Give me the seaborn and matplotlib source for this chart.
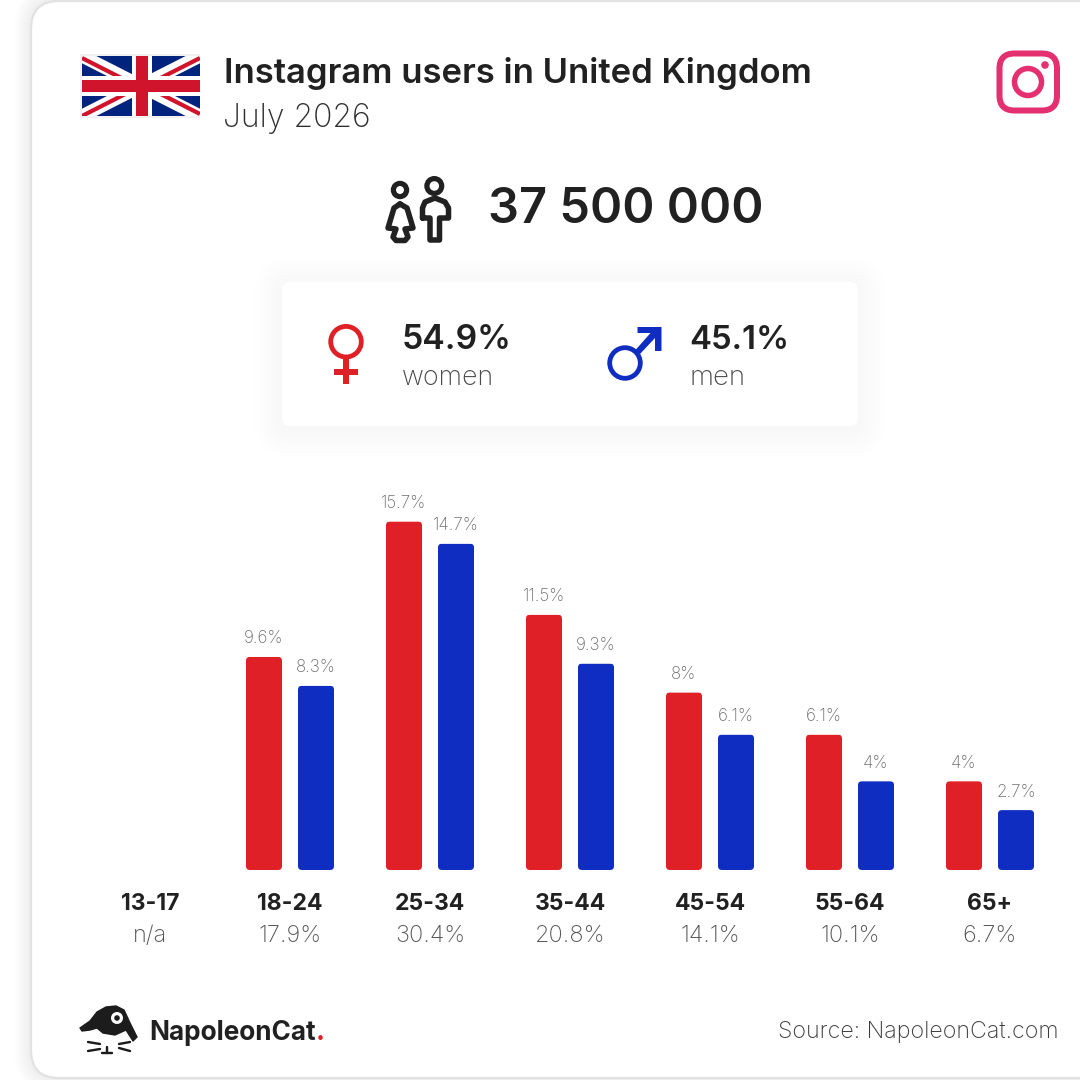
import numpy as np
import pandas as pd
import seaborn as sns
import matplotlib.pyplot as plt
from matplotlib.patches import FancyBboxPatch, Circle, Polygon, Rectangle

# values
age_groups = ['13-17', '18-24', '25-34', '35-44', '45-54', '55-64', '65+']
women_pct = [np.nan, 9.6, 15.7, 11.5, 8, 6.1, 4]
men_pct = [np.nan, 8.3, 14.7, 9.3, 6.1, 4, 2.7]
group_totals = ['n/a', '17.9%', '30.4%', '20.8%', '14.1%', '10.1%', '6.7%']
title = 'Instagram users in United Kingdom'
subtitle = 'July 2026'
total_users = '37 500 000'
women_share = '54.9%'
men_share = '45.1%'
source = 'Source: NapoleonCat.com'

RED = '#e02027'
BLUE = '#0f2dc0'
DARK = '#212121'
GREY = '#6e6e6e'
PINK = '#e4306f'
FLAG_RED = '#cf142b'
LOGO = '#1c1c1c'

sns.set_theme(style='white')
plt.rcParams['font.family'] = ['Inter', 'DejaVu Sans']

fig = plt.figure(figsize=(10.8, 10.8), dpi=100, facecolor='white')

# background axes in pixel coordinates, for the card, icons and captions
deco = fig.add_axes([0, 0, 1, 1], zorder=0)
deco.set_xlim(0, 1080)
deco.set_ylim(1080, 0)
deco.axis('off')


def px(v):
    return v * 0.72


def round_box(x0, y0, x1, y1, r, **kw):
    return FancyBboxPatch((x0 + r, y0 + r), x1 - x0 - 2 * r, y1 - y0 - 2 * r,
                          boxstyle=f'round,pad={r},rounding_size={r}', **kw)


def put(x, y, s, size, weight, color, width=None, ha='left'):
    # size in pixels, width = target width in pixels
    t = deco.text(x, y, s, fontsize=px(size), fontweight=weight, color=color,
                  ha=ha, va='baseline')
    if width:
        w = t.get_window_extent(fig.canvas.get_renderer()).width
        t.set_fontsize(px(size) * width / w)
    return t


def stroke(points, color=DARK, lw=5.5, closed=False):
    pts = list(points) + ([points[0]] if closed else [])
    xs, ys = zip(*pts)
    deco.plot(xs, ys, color=color, lw=px(lw), solid_joinstyle='round',
              solid_capstyle='round')


# page card with soft shadow
for i in range(18):
    deco.add_patch(round_box(31 - i, 1 - i, 1200, 1078 + i, 28 + i, fc='black', ec='none', alpha=0.0025))
deco.add_patch(round_box(31, 1, 1200, 1078, 28, fc='white', ec='#e2e2e2', lw=px(2.2)))

# union flag
deco.add_patch(Rectangle((80, 54), 120, 64, fc='#f2f2f2', ec='none'))
flag = Rectangle((82, 56), 118, 60, fc='#00247d', ec='none')
deco.add_patch(flag)
for xs, ys in [([82, 200], [56, 116]), ([82, 200], [116, 56])]:
    line, = deco.plot(xs, ys, color='white', lw=px(13), solid_capstyle='butt', zorder=2)
    line.set_clip_path(flag)
for xs, ys in [([82, 141], [58, 88]), ([141, 200], [84, 114]),
               ([82, 141], [116, 86]), ([141, 200], [88, 58])]:
    line, = deco.plot(xs, ys, color=FLAG_RED, lw=px(4.2), solid_capstyle='butt', zorder=2)
    line.set_clip_path(flag)
deco.add_patch(Rectangle((132, 56), 20, 60, fc='white', ec='none', zorder=3))
deco.add_patch(Rectangle((82, 76), 118, 20, fc='white', ec='none', zorder=3))
deco.add_patch(Rectangle((136, 56), 12, 60, fc=FLAG_RED, ec='none', zorder=3))
deco.add_patch(Rectangle((82, 80), 118, 12, fc=FLAG_RED, ec='none', zorder=3))

# header
put(224, 83, title, 33, 600, DARK, width=587)
put(223, 127, subtitle, 33, 200, '#2e2e2e', width=148)

# instagram icon
deco.add_patch(round_box(999.5, 53.5, 1057, 110.5, 15, fc='none', ec=PINK, lw=px(6)))
deco.add_patch(Circle((1028, 82), 13.5, fc='none', ec=PINK, lw=px(5.5)))
deco.add_patch(Circle((1045, 65), 3.8, fc=PINK, ec='none'))

# people icon
deco.add_patch(Circle((400, 190), 6.6, fc='none', ec=DARK, lw=px(5.2)))
deco.add_patch(Circle((434.3, 186), 7.4, fc='none', ec=DARK, lw=px(5.2)))
stroke([(400, 204), (394, 208), (388, 228), (396, 229), (393, 237), (396, 240.5),
        (405, 240.5), (408, 237), (405, 229), (413, 228), (407, 208)], closed=True)
stroke([(422.5, 218), (422.5, 208), (425, 202), (435, 198), (445, 202), (448.5, 208),
        (448.5, 218), (439.5, 218), (439.5, 240), (430, 240), (430, 218)], closed=True)
put(488, 223, total_users, 50, 600, DARK, width=275)

# gender card
for i in range(1, 8):
    grow = i * 4
    deco.add_patch(round_box(282 - grow, 285 - grow, 858 + grow, 429 + grow, 8 + grow,
                             fc='black', ec='none', alpha=0.005))
deco.add_patch(round_box(282, 282, 858, 426, 8, fc='white', ec='none'))
deco.add_patch(Circle((346, 341.7), 15.3, fc='none', ec=RED, lw=px(4.8)))
deco.add_patch(Rectangle((343.2, 358), 5.6, 26, fc=RED, ec='none'))
deco.add_patch(Rectangle((334, 369), 24, 6, fc=RED, ec='none'))
deco.add_patch(Circle((625, 363), 15.3, fc='none', ec=BLUE, lw=px(4.8)))
deco.add_patch(Polygon([(637.5, 327), (661.5, 327), (661.5, 351), (655, 351), (655, 338),
                       (640, 354), (635.5, 350), (650.5, 333), (637.5, 333)], fc=BLUE, ec='none'))
put(402, 349, women_share, 35, 600, DARK, width=110)
put(689, 349, men_share, 35, 600, DARK, width=100)
put(402, 385, 'women', 24, 200, '#4a4a4a', width=92)
put(690, 385, 'men', 24, 200, '#4a4a4a', width=56)

# footer logo
cat = [(80, 1028), (90, 1021), (97, 1012), (106, 1007), (116, 1006), (124, 1010), (130, 1023),
       (137, 1037), (133, 1041), (126, 1030), (115, 1035), (103, 1033), (97, 1028), (90, 1030), (82, 1031)]
deco.add_patch(Polygon(cat, fc=LOGO, ec=LOGO, lw=1, joinstyle='round'))
deco.add_patch(Circle((117, 1018), 6, fc='white', ec='none'))
deco.add_patch(Circle((117, 1018), 2.8, fc=LOGO, ec='none'))
for xs, ys in [([88, 100], [1042, 1044]), ([88, 100], [1051, 1049]), ([119, 130], [1044, 1042]),
               ([119, 130], [1048, 1051]), ([107, 107], [1047, 1053]), ([102, 112], [1053, 1053])]:
    deco.plot(xs, ys, color=LOGO, lw=px(2.4), solid_capstyle='round')
put(149, 1040, 'NapoleonCat', 27, 700, DARK, width=167)
put(316, 1040, '.', 27, 700, RED)
put(1059, 1038, source, 23, 200, '#3c3c3c', width=281, ha='right')

# bars, 22.2 px for one percentage point, baseline at y=870
plot_df = pd.DataFrame({'age': age_groups * 2,
                        'share': women_pct + men_pct,
                        'gender': ['women'] * 7 + ['men'] * 7})
ax = fig.add_axes([80 / 1080, (1080 - 870) / 1080, 980 / 1080, 16.5 * 22.2 / 1080], zorder=1)
ax.patch.set_alpha(0)
sns.barplot(data=plot_df, x='age', y='share', hue='gender', order=age_groups,
            palette={'women': RED, 'men': BLUE}, width=0.743, gap=0.3077,
            saturation=1, legend=False, linewidth=0, ax=ax)
ax.set_ylim(0, 16.5)
ax.set_xlim(-0.5, 6.5)
ax.set_xlabel('')
ax.set_ylabel('')
ax.set_yticks([])
sns.despine(ax=ax, left=True, bottom=True)
ax.tick_params(axis='x', length=0, pad=px(23))
ax.set_xticks(range(len(age_groups)), age_groups, fontsize=px(23), fontweight=700, color=DARK)

for container in ax.containers:
    ax.bar_label(container, fmt='%g%%', padding=px(9.5), fontsize=px(17), fontweight=200, color=GREY)

# rounded bar corners
to_px = ax.transData + deco.transData.inverted()
for bar in ax.patches:
    if np.isnan(bar.get_height()) or bar.get_height() == 0:
        continue
    (x0, y0), (x1, y1) = to_px.transform([(bar.get_x(), bar.get_height()),
                                          (bar.get_x() + bar.get_width(), 0)])
    bar.set_snap(False)
    bar.set_clip_path(round_box(x0, y0, x1, y1, 4, transform=deco.transData))

for i, total in enumerate(group_totals):
    ax.annotate(total, (i, 0), xycoords=ax.get_xaxis_transform(), xytext=(0, -px(72)),
                textcoords='offset points', ha='center', va='baseline',
                fontsize=px(23.5), fontweight=200, color='#555555')

fig.savefig('out.png', dpi=100)
